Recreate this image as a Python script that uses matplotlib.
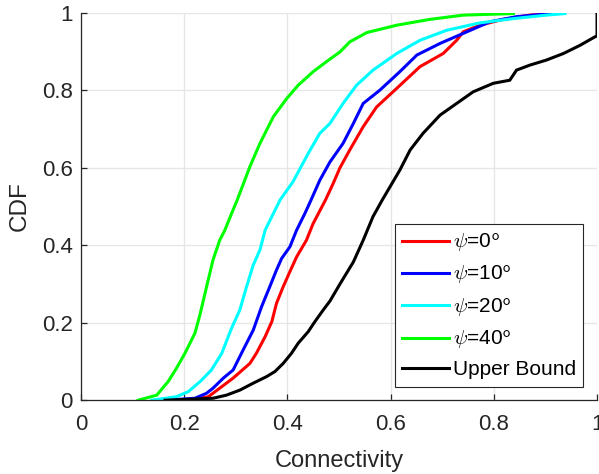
import numpy as np
import matplotlib
matplotlib.use("Agg")
from matplotlib import pyplot as plt
from matplotlib.ticker import FuncFormatter

plt.rcParams['font.family'] = ['Liberation Sans', 'DejaVu Sans']
plt.rcParams['mathtext.fontset'] = 'cm'

# CDF curves: (connectivity, cdf) pairs
psi0_x = [0.20, 0.247, 0.269, 0.295, 0.3275, 0.340, 0.357, 0.370, 0.379, 0.392, 0.405, 0.418, 0.437,
          0.450, 0.474, 0.489, 0.502, 0.521, 0.547, 0.573, 0.612, 0.657, 0.702, 0.728, 0.741, 0.773,
          0.818, 0.870, 0.909]
psi0_y = [0.0, 0.009, 0.031, 0.057, 0.095, 0.121, 0.164, 0.203, 0.25, 0.293, 0.332, 0.370, 0.413,
          0.456, 0.517, 0.560, 0.600, 0.646, 0.706, 0.757, 0.805, 0.861, 0.895, 0.929, 0.951, 0.968,
          0.983, 0.994, 0.998]

psi10_x = [0.163, 0.221, 0.2436, 0.256, 0.276, 0.295, 0.3145, 0.334, 0.350, 0.366, 0.379, 0.389,
           0.405, 0.418, 0.434, 0.446, 0.463, 0.4826, 0.508, 0.528, 0.547, 0.579, 0.618, 0.651, 0.696,
           0.741, 0.793, 0.844, 0.909]
psi10_y = [0.0, 0.005, 0.018, 0.031, 0.057, 0.078, 0.13, 0.181, 0.241, 0.293, 0.336, 0.366,
           0.396, 0.439, 0.482, 0.517, 0.568, 0.615, 0.663, 0.7146, 0.766, 0.800, 0.848, 0.891, 0.921,
           0.947, 0.977, 0.990, 0.998]

psi20_x = [0.137, 0.185, 0.208, 0.231, 0.253, 0.273, 0.292, 0.308, 0.321, 0.334, 0.347, 0.357,
           0.370, 0.386, 0.411, 0.4405, 0.463, 0.4826, 0.508, 0.534, 0.566, 0.612, 0.657, 0.709,
           0.773, 0.838, 0.902, 0.938]
psi20_y = [0.0, 0.009, 0.022, 0.048, 0.078, 0.121, 0.186, 0.233, 0.293, 0.349, 0.388, 0.439,
           0.474, 0.517, 0.564, 0.637, 0.689, 0.7146, 0.766, 0.813, 0.852, 0.895, 0.929, 0.955,
           0.974, 0.985, 0.994, 0.998]

psi40_x = [0.111, 0.147, 0.169, 0.185, 0.2016, 0.221, 0.2306, 0.2436, 0.256, 0.269, 0.279, 0.292,
           0.303, 0.3275, 0.347, 0.373, 0.399, 0.421, 0.450, 0.480, 0.502, 0.521, 0.554, 0.612,
           0.676, 0.741, 0.838]
psi40_y = [0.0, 0.013, 0.048, 0.082, 0.121, 0.173, 0.220, 0.293, 0.362, 0.413, 0.439, 0.482,
           0.517, 0.603, 0.663, 0.732, 0.779, 0.813, 0.848, 0.878, 0.899, 0.925, 0.949, 0.968,
           0.983, 0.994, 0.998]

upper_x = [0.163, 0.256, 0.282, 0.308, 0.334, 0.360, 0.376, 0.392, 0.408, 0.421, 0.4405, 0.4535,
           0.4696, 0.4826, 0.502, 0.528, 0.547, 0.566, 0.584, 0.599, 0.618, 0.638, 0.663, 0.696,
           0.728, 0.760, 0.799, 0.831, 0.844, 0.870, 0.902, 0.935, 0.967, 0.996, 1.0, 1.0]
upper_y = [0.0, 0.005, 0.013, 0.026, 0.044, 0.061, 0.074, 0.095, 0.121, 0.147, 0.177, 0.203,
           0.233, 0.256, 0.300, 0.357, 0.413, 0.474, 0.517, 0.551, 0.594, 0.646, 0.689, 0.736,
           0.766, 0.796, 0.818, 0.826, 0.852, 0.865, 0.878, 0.895, 0.916, 0.938, 0.94, 1.0]

labels = [r'$\psi$=0$^{\mathsf{o}}$', r'$\psi$=10$^{\mathsf{o}}$', r'$\psi$=20$^{\mathsf{o}}$',
          r'$\psi$=40$^{\mathsf{o}}$', 'Upper Bound']
colors = ['#ff0000', '#0000ff', '#00ffff', '#00ff00', '#000000']
ticks = [0, 0.2, 0.4, 0.6, 0.8, 1]

fig = plt.figure(figsize=(5.99, 4.74), dpi=100)
ax = fig.add_axes([0.135, 0.1557, 0.8617, 0.8173])

series = [(psi0_x, psi0_y), (psi10_x, psi10_y), (psi20_x, psi20_y), (psi40_x, psi40_y), (upper_x, upper_y)]
for (xs, ys), c, lab in zip(series, colors, labels):
    ax.plot(xs, ys, color=c, lw=2.2, label=lab, solid_joinstyle='miter')

ax.set_xlim(0, 1)
ax.set_ylim(0, 1)
ax.set_xticks(ticks)
ax.set_yticks(ticks)
fmt = FuncFormatter(lambda v, p: '%g' % v)
ax.xaxis.set_major_formatter(fmt)
ax.yaxis.set_major_formatter(fmt)
ax.grid(True, color='#e6e6e6', lw=1)
ax.set_axisbelow(True)
for s in ['top', 'right']:
    ax.spines[s].set_visible(False)
for s in ['left', 'bottom']:
    ax.spines[s].set_color('#262626')
    ax.spines[s].set_linewidth(0.9)
ax.tick_params(direction='in', length=4, width=0.9, colors='#262626', labelsize=16)
ax.tick_params(axis='x', pad=10)
ax.tick_params(axis='y', pad=6)

ax.set_xlabel('Connectivity', fontsize=17, color='#262626', labelpad=11)
ax.set_ylabel('CDF', fontsize=17.5, color='#262626', labelpad=8)

leg = ax.legend(loc='lower right', fontsize=15, frameon=True, fancybox=False, edgecolor='#262626',
                framealpha=1, handlelength=2.25, handletextpad=0.2, labelspacing=0.45,
                borderaxespad=0.65, borderpad=0.35)
leg.get_frame().set_linewidth(0.8)

plt.savefig('out.png', dpi=100)
